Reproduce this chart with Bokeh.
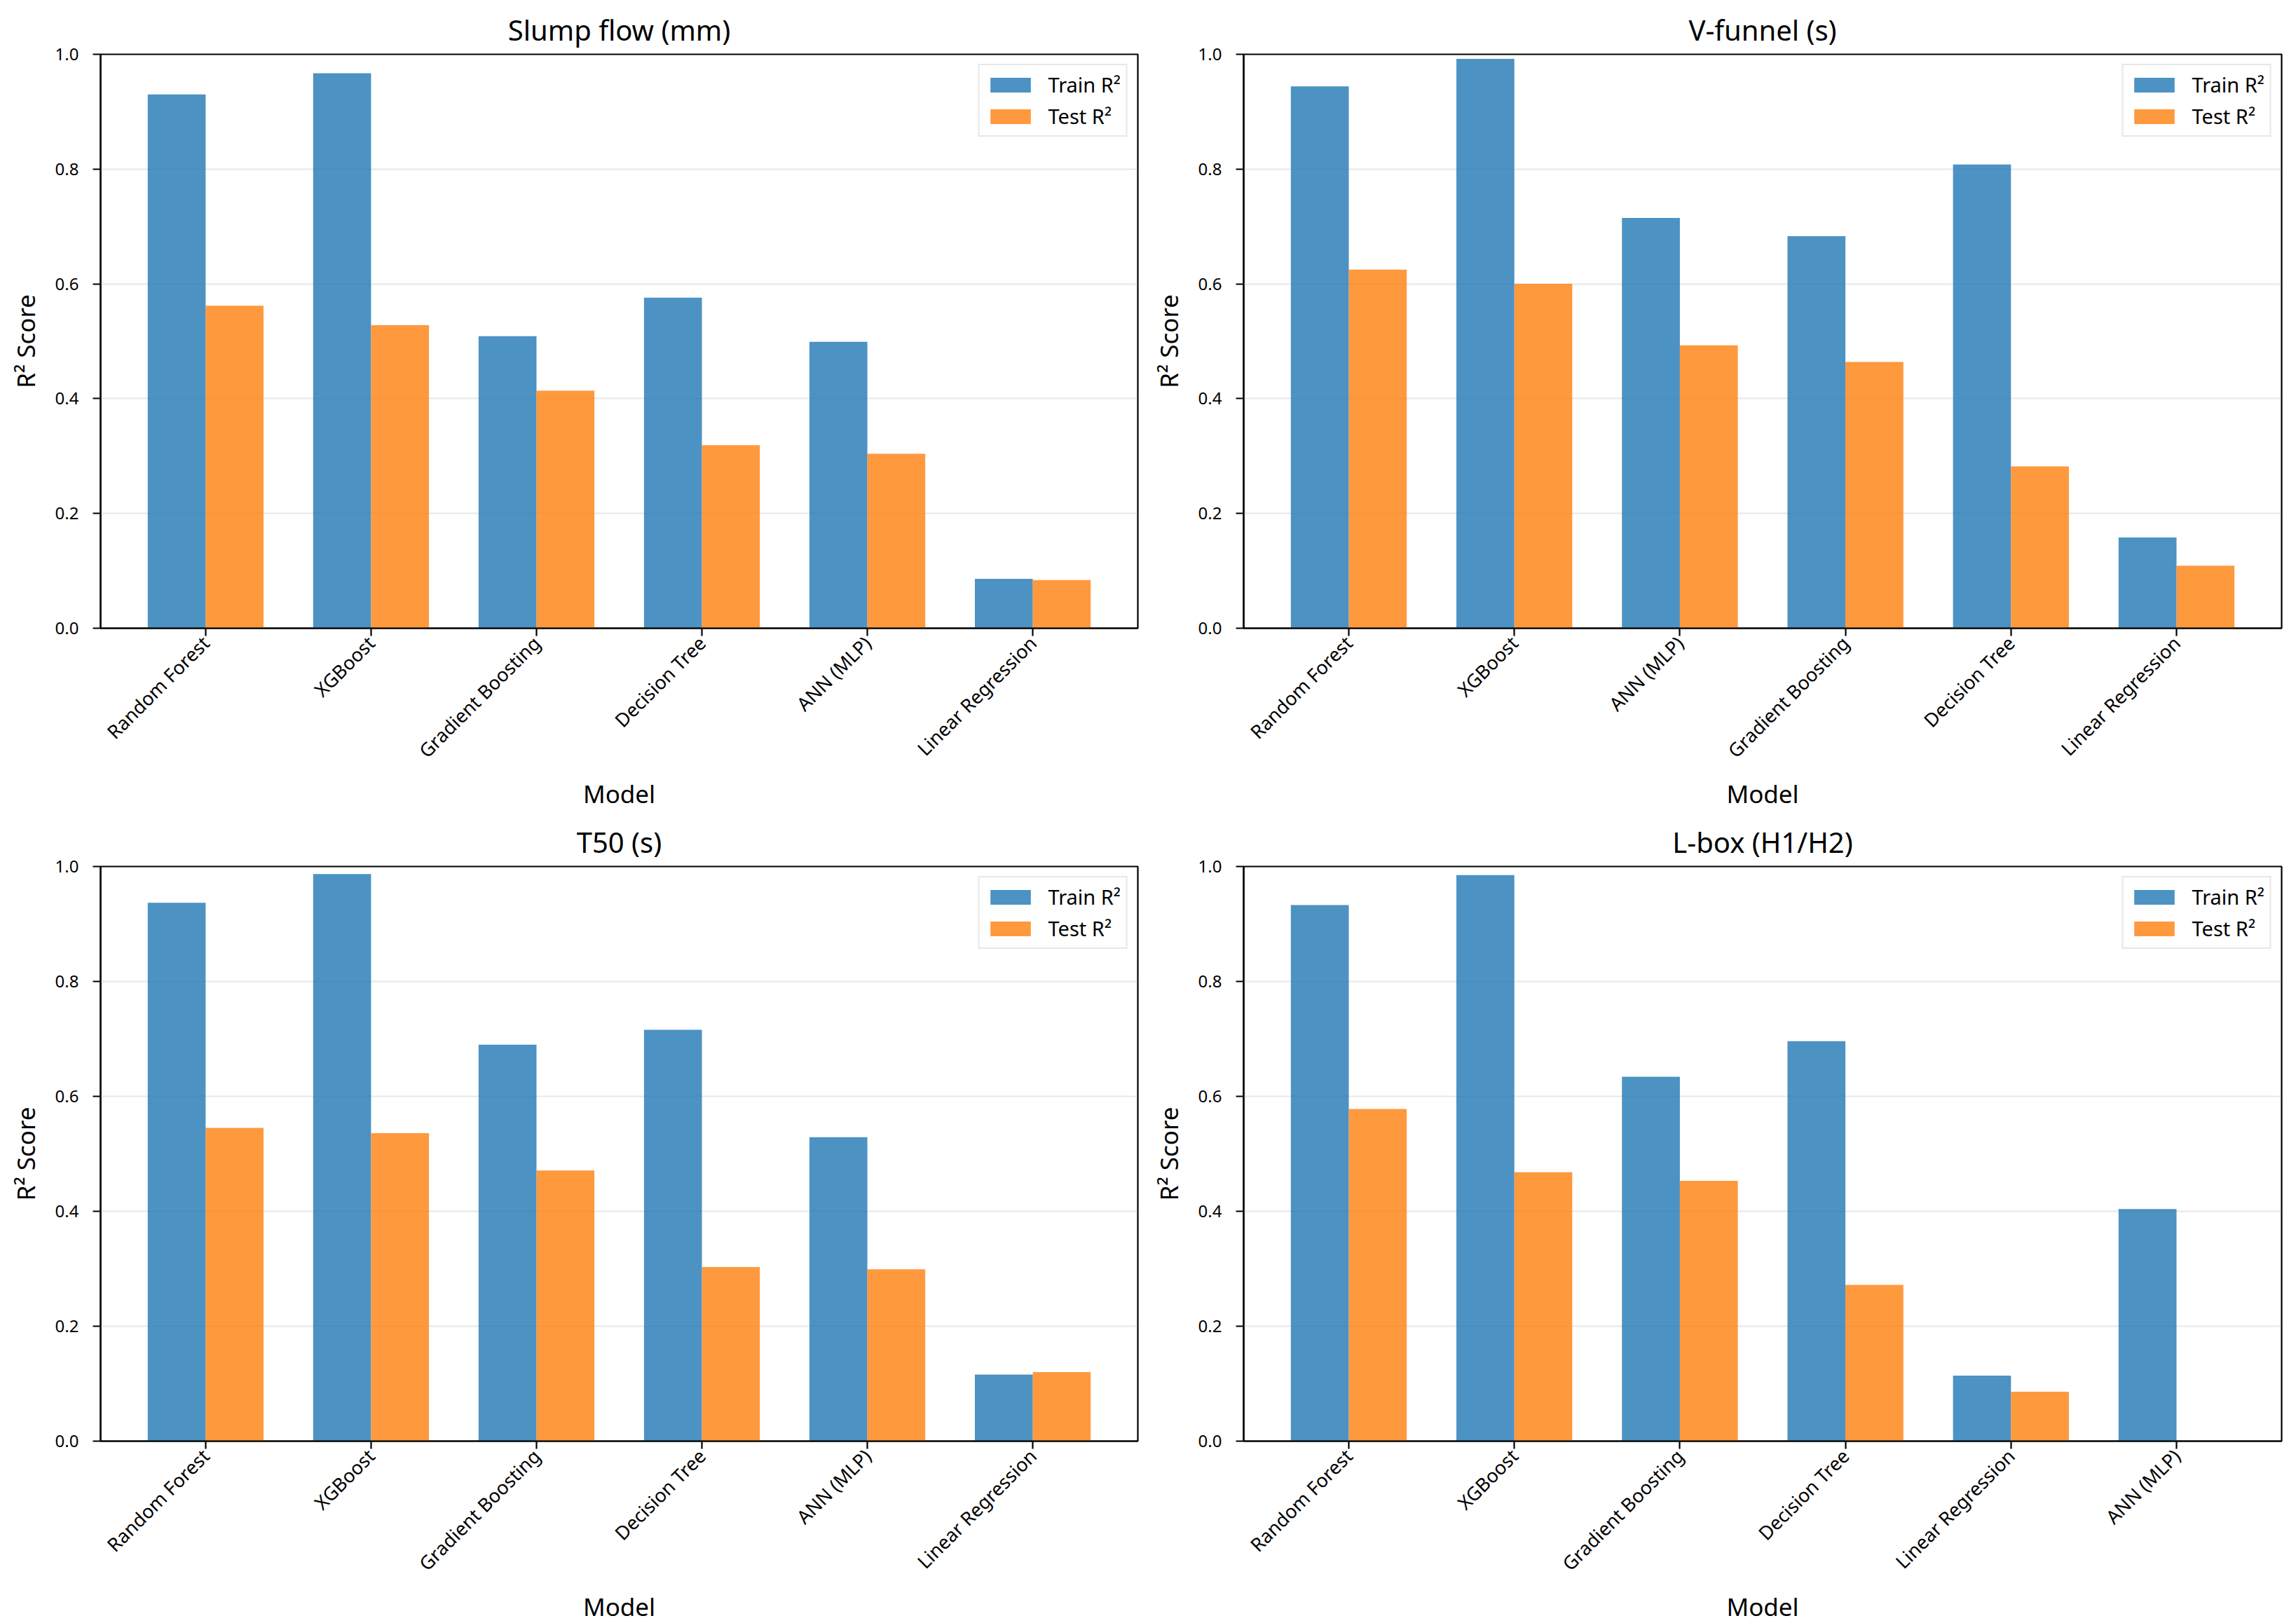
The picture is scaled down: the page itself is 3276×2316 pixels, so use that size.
import math
from bokeh.plotting import figure
from bokeh.models import FactorRange, Range1d, FixedTicker, NumeralTickFormatter
from bokeh.layouts import gridplot
from bokeh.transform import dodge
from bokeh.embed import file_html
from bokeh.resources import INLINE

FONT = "Noto Sans"
TRAIN_COLOR = "#1f77b4"
TEST_COLOR = "#ff7f0e"

# ---- data ----
slump_models = ["Random Forest", "XGBoost", "Gradient Boosting", "Decision Tree", "ANN (MLP)", "Linear Regression"]
slump_train = [0.930, 0.967, 0.509, 0.576, 0.499, 0.086]
slump_test = [0.562, 0.528, 0.414, 0.319, 0.304, 0.084]

vfunnel_models = ["Random Forest", "XGBoost", "ANN (MLP)", "Gradient Boosting", "Decision Tree", "Linear Regression"]
vfunnel_train = [0.944, 0.992, 0.715, 0.683, 0.808, 0.158]
vfunnel_test = [0.625, 0.600, 0.493, 0.464, 0.282, 0.109]

t50_models = ["Random Forest", "XGBoost", "Gradient Boosting", "Decision Tree", "ANN (MLP)", "Linear Regression"]
t50_train = [0.937, 0.987, 0.690, 0.716, 0.529, 0.116]
t50_test = [0.545, 0.536, 0.471, 0.303, 0.299, 0.120]

lbox_models = ["Random Forest", "XGBoost", "Gradient Boosting", "Decision Tree", "Linear Regression", "ANN (MLP)"]
lbox_train = [0.933, 0.985, 0.634, 0.696, 0.114, 0.404]
lbox_test = [0.578, 0.468, 0.453, 0.272, 0.086, 0.0]

y_ticks = [0.0, 0.2, 0.4, 0.6, 0.8, 1.0]
BAR_W = 0.35


def make_panel(title, models, train, test, fw, fh, left, right, top, bottom):
    p = figure(
        x_range=FactorRange(*models, range_padding=0.135, range_padding_units="absolute"),
        y_range=Range1d(0, 1),
        frame_width=fw, frame_height=fh,
        min_border_left=left, min_border_right=right,
        min_border_top=top, min_border_bottom=bottom,
        output_backend="svg", toolbar_location=None, title=title,
    )
    src = dict(model=models, train=train, test=test)
    p.vbar(x=dodge("model", -BAR_W / 2, range=p.x_range), top="train", width=BAR_W,
           source=src, fill_color=TRAIN_COLOR, fill_alpha=0.8, line_color=None,
           legend_label="Train R²")
    p.vbar(x=dodge("model", BAR_W / 2, range=p.x_range), top="test", width=BAR_W,
           source=src, fill_color=TEST_COLOR, fill_alpha=0.8, line_color=None,
           legend_label="Test R²")

    p.title.text_font = FONT
    p.title.text_font_size = "40px"
    p.title.text_font_style = "normal"
    p.title.text_color = "black"
    p.title.align = "center"
    p.title.standoff = 15

    p.background_fill_color = "white"
    p.border_fill_color = "white"
    p.outline_line_color = "black"
    p.outline_line_width = 2.2
    p.outline_line_alpha = 1.0

    p.xgrid.visible = False
    p.ygrid.grid_line_color = "#b0b0b0"
    p.ygrid.grid_line_alpha = 0.3
    p.ygrid.grid_line_width = 2.2

    for ax in (p.xaxis[0], p.yaxis[0]):
        ax.axis_line_color = "black"
        ax.axis_line_width = 2.2
        ax.major_tick_line_color = "black"
        ax.major_tick_line_width = 2.2
        ax.major_tick_out = 11
        ax.major_tick_in = 0
        ax.minor_tick_line_color = None
        ax.major_label_text_font = FONT
        ax.major_label_text_color = "black"
        ax.axis_label_text_font = FONT
        ax.axis_label_text_font_size = "35px"
        ax.axis_label_text_font_style = "normal"
        ax.axis_label_text_color = "black"

    p.yaxis.ticker = FixedTicker(ticks=y_ticks)
    p.yaxis.formatter = NumeralTickFormatter(format="0.0")
    p.yaxis.major_label_text_font_size = "24px"
    p.yaxis.axis_label = "R² Score"
    p.yaxis.axis_label_standoff = 16
    p.yaxis.major_label_standoff = 20

    p.xaxis.major_label_orientation = math.pi / 4
    p.xaxis.major_label_text_font_size = "27px"
    p.xaxis.major_label_text_baseline = "bottom"
    p.xaxis.axis_label = "Model"
    p.xaxis.axis_label_standoff = 4
    p.xaxis.major_label_standoff = 5

    lg = p.legend[0]
    lg.location = "top_right"
    lg.label_text_font = FONT
    lg.label_text_font_size = "29px"
    lg.label_text_color = "black"
    lg.glyph_width = 72
    lg.glyph_height = 26
    lg.label_standoff = 18
    lg.label_height = 30
    lg.spacing = 6
    lg.padding = 8
    lg.margin = 14
    lg.border_line_color = "#d0d0d0"
    lg.border_line_width = 2
    lg.background_fill_alpha = 0.8
    return p


p1 = make_panel("Slump flow (mm)", slump_models, slump_train, slump_test, 1480, 819, 143, 15, 77, 262)
p2 = make_panel("V-funnel (s)", vfunnel_models, vfunnel_train, vfunnel_test, 1481, 819, 136, 13, 77, 262)
p3 = make_panel("T50 (s)", t50_models, t50_train, t50_test, 1480, 820, 143, 15, 78, 200)
p4 = make_panel("L-box (H1/H2)", lbox_models, lbox_train, lbox_test, 1481, 820, 136, 13, 78, 200)

grid = gridplot([[p1, p2], [p3, p4]], toolbar_location=None)

open("out.html", "w").write(file_html(grid, INLINE))
